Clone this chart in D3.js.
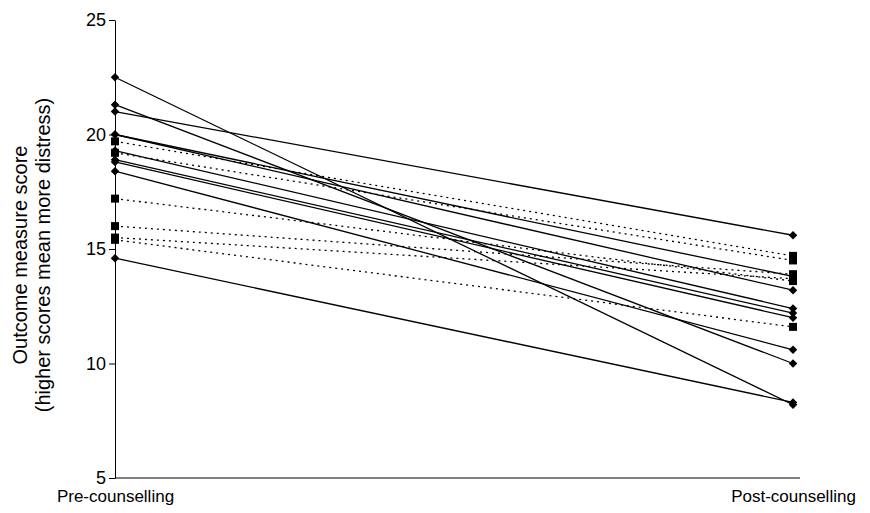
<!DOCTYPE html><html><head><script src="https://cdn.jsdelivr.net/npm/d3@7"></script>
<style>body{margin:0;background:#fff}</style></head><body><svg width="870" height="513"></svg>
<script>
const categories=["Pre-counselling","Post-counselling"];
const yTicks=[5,10,15,20,25];
const solidPre=[22.5,21.3,21.0,20.0,20.0,19.3,18.9,18.8,18.4,14.6];
const solidPost=[8.2,10.0,15.6,13.8,13.2,12.4,12.2,12.0,10.6,8.3];
const dottedPre=[19.7,19.2,17.2,16.0,15.5,15.4];
const dottedPost=[14.7,14.5,13.6,13.9,13.7,11.6];
const svg=d3.select("svg");
const x=d3.scalePoint().domain(categories).range([115,793]);
const y=d3.scaleLinear().domain([5,25]).range([478,20]);
const font="Arial, 'Liberation Sans', sans-serif";
const ya=svg.append("g").attr("transform","translate(115,0)").call(d3.axisLeft(y).tickValues(yTicks).tickSize(6).tickSizeOuter(0));
ya.selectAll("text").style("font-size","18px").style("font-family",font).attr("fill","#000");
ya.selectAll("line,path").attr("stroke","#000");
const xa=svg.append("g").attr("transform","translate(0,478)").call(d3.axisBottom(x).tickSize(0).tickSizeOuter(0));
xa.select("path").attr("d","M115,0H800").attr("stroke","#000");
xa.selectAll("text").style("font-size","17px").style("font-family",font).attr("fill","#000").attr("dy","1.25em");
svg.append("text").attr("transform","translate(27,255) rotate(-90)").attr("text-anchor","middle").style("font-size","20px").style("font-family",font).text("Outcome measure score");
svg.append("text").attr("transform","translate(50,255) rotate(-90)").attr("text-anchor","middle").style("font-size","20px").style("font-family",font).text("(higher scores mean more distress)");
function draw(pre,post,dash,shape){
  pre.forEach((v,i)=>{
    svg.append("line").attr("x1",x(categories[0])).attr("x2",x(categories[1])).attr("y1",y(v)).attr("y2",y(post[i]))
      .attr("stroke","#000").attr("stroke-width",1.3).attr("stroke-dasharray",dash);
  });
  const pts=pre.map(v=>[categories[0],v]).concat(post.map(v=>[categories[1],v]));
  svg.selectAll(null).data(pts).enter().append("path")
    .attr("transform",d=>`translate(${x(d[0])},${y(d[1])})`+(shape==="d"?" rotate(45)":""))
    .attr("d",shape==="d"?"M-3,-3h6v6h-6z":"M-4,-4h8v8h-8z").attr("fill","#000");
}
draw(dottedPre,dottedPost,"2,4","s");
draw(solidPre,solidPost,null,"d");
</script></body></html>
